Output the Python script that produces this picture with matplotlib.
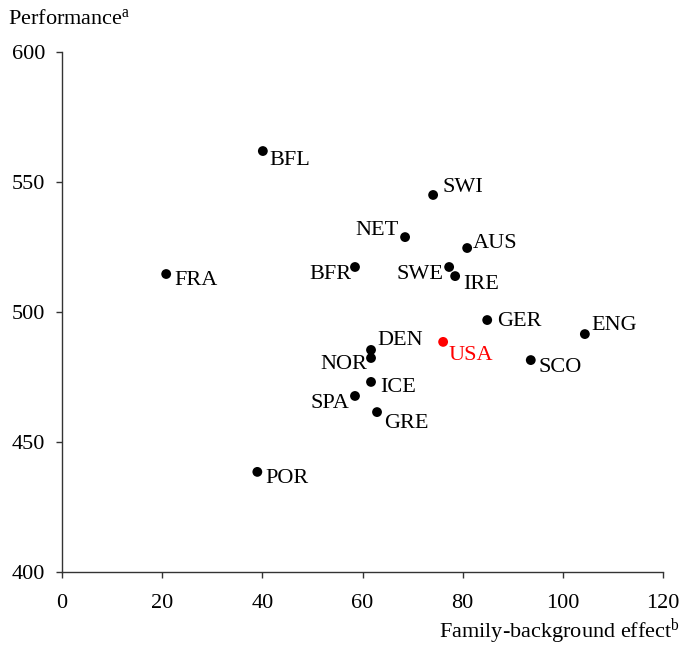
import matplotlib
matplotlib.use("Agg")
import matplotlib.pyplot as plt

# data
countries = ["BFL", "SWI", "NET", "AUS", "SWE", "IRE", "BFR", "FRA", "GER",
             "ENG", "USA", "SCO", "DEN", "NOR", "ICE", "SPA", "GRE", "POR"]
family_effect = [40.1, 74.1, 68.5, 80.9, 77.3, 78.5, 58.5, 20.8, 84.9,
                 104.4, 76.1, 93.6, 61.7, 61.7, 61.7, 58.5, 62.9, 39.0]
performance = [561.9, 545.0, 528.8, 524.6, 517.3, 513.8, 517.3, 514.6, 496.9,
               491.5, 488.5, 481.5, 485.4, 482.3, 473.1, 467.7, 461.5, 438.5]
highlight = "USA"

# label placement: (dx px, dy px to baseline, ha)
label_pos = {
    "BFL": (7, -14, "left"), "SWI": (9, 3, "left"), "NET": (-6, 2, "right"),
    "AUS": (6, 0, "left"), "SWE": (-6, -12, "right"), "IRE": (8, -13, "left"),
    "BFR": (-3, -12, "right"), "FRA": (8, -11, "left"), "GER": (10, -6, "left"),
    "ENG": (7, 4, "left"), "USA": (5, -18, "left"), "SCO": (8, -12, "left"),
    "DEN": (6, 5, "left"), "NOR": (-4, -11, "right"), "ICE": (9, -10, "left"),
    "SPA": (-6, -12, "right"), "GRE": (7, -16, "left"), "POR": (8, -11, "left"),
}

plt.rcParams.update({
    "font.family": "Liberation Serif",
    "font.size": 16,
    "mathtext.fontset": "custom",
    "mathtext.rm": "Liberation Serif",
    "mathtext.it": "Liberation Serif",
})

fig = plt.figure(figsize=(6.83, 6.48), dpi=100)
ax = fig.add_axes([0.0908, 0.1173, 0.8799, 0.8025])

colors = ["#ff0000" if c == highlight else "black" for c in countries]
ax.scatter(family_effect, performance, s=50, c=colors, zorder=3, linewidths=0)

px = 0.72  # points per pixel at 100 dpi
for c, xv, yv in zip(countries, family_effect, performance):
    dx, dy, ha = label_pos[c]
    ax.annotate(c, (xv, yv), xytext=(dx * px, dy * px), textcoords="offset points",
                ha=ha, va="baseline", fontsize=16,
                color="#ff0000" if c == highlight else "black")

ax.set_xlim(0, 120)
ax.set_ylim(400, 600)
ax.set_xticks(range(0, 121, 20))
ax.set_yticks(range(400, 601, 50))
ax.spines["top"].set_visible(False)
ax.spines["right"].set_visible(False)
for s in ("left", "bottom"):
    ax.spines[s].set_linewidth(1.0)
    ax.spines[s].set_color("#333333")
ax.tick_params(direction="out", length=4, width=1.0, color="#333333", labelsize=16)
ax.tick_params(axis="y", pad=8)
ax.tick_params(axis="x", pad=12)

fig.text(8 / 683, 1 - 19 / 648, r"Performance$^{\mathrm{a}}$", ha="left", va="center", fontsize=16)
fig.text(680 / 683, 1 - 632 / 648, r"Family-background effect$^{\mathrm{b}}$",
         ha="right", va="center", fontsize=16)

fig.savefig("out.png", dpi=100)
